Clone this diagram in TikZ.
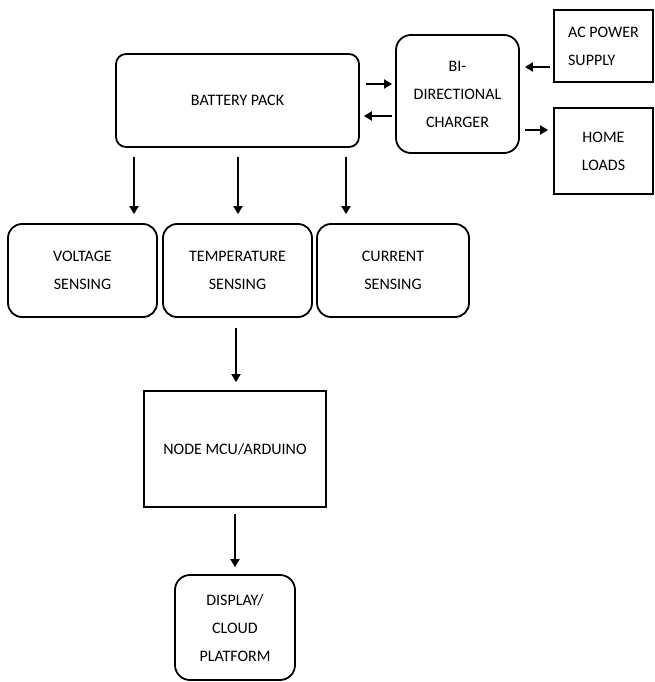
\documentclass[tikz,border=0pt]{standalone}
\usepackage{fontspec}
\setmainfont{Carlito}
\usepackage{tikz}
\usetikzlibrary{positioning,arrows.meta,calc}

\begin{document}
\begin{tikzpicture}[
    x=1pt, y=-1pt,
    rblock/.style={draw, line width=1.8pt, rounded corners=#1, align=center, inner sep=0pt,
      font=\fontsize{16}{28}\selectfont},
    rblock/.default=12pt,
    sblock/.style={draw, line width=1.8pt, align=center, inner sep=0pt,
      font=\fontsize{16}{28}\selectfont},
    arrow/.style={-{Triangle[length=8pt, width=9pt]}, line width=2.6pt},
  ]
  \useasboundingbox (0,0) rectangle (655,682);

  % Top row
  \node[rblock=10pt, minimum width=243pt, minimum height=93pt] (bp) at (237.5,100.5) {BATTERY PACK};
  \node[rblock=15pt, minimum width=123pt, minimum height=118pt] (chg) at (457.5,94) {BI-\\DIRECTIONAL\\CHARGER};
  \node[sblock, minimum width=99pt, minimum height=72pt, align=left] (ac) at (603.5,46) {AC POWER\\SUPPLY};
  \node[sblock, minimum width=99pt, minimum height=86pt] (home) at (603.5,151) {HOME\\LOADS};

  % Sensing row
  \node[rblock=14pt, minimum width=149pt, minimum height=93pt] (volt) at (82.5,270.5) {VOLTAGE\\SENSING};
  \node[rblock=14pt, minimum width=149pt, minimum height=93pt] (temp) at (237.5,270.5) {TEMPERATURE\\SENSING};
  \node[rblock=14pt, minimum width=152pt, minimum height=93pt] (curr) at (393,270.5) {CURRENT\\SENSING};

  % Controller and output
  \node[sblock, minimum width=182pt, minimum height=116pt] (mcu) at (235,449) {NODE MCU/ARDUINO};
  \node[rblock=15pt, minimum width=120pt, minimum height=105pt] (disp) at (235,627.5) {DISPLAY/\\CLOUD\\PLATFORM};

  % Arrows
  \draw[arrow, shorten <=6pt, shorten >=3pt] ([yshift=16.5pt]bp.east) -- ([yshift=16.5pt]bp.east -| chg.west);
  \draw[arrow, shorten <=3pt, shorten >=4pt] ([yshift=-15.5pt]bp.east -| chg.west) -- ([yshift=-15.5pt]bp.east);
  \draw[arrow, shorten <=3pt, shorten >=5pt] ([yshift=-21pt]ac.west) -- ([yshift=-21pt]ac.west -| chg.east);
  \draw[arrow, shorten <=5pt, shorten >=5pt] ([yshift=-36pt]chg.east) -- ([yshift=-36pt]chg.east -| home.west);

  \draw[arrow, shorten <=9pt, shorten >=9pt] ([xshift=-103.5pt]bp.south) -- ([xshift=-103.5pt]bp.south |- volt.north);
  \draw[arrow, shorten <=9pt, shorten >=9pt] ([xshift=0.5pt]bp.south) -- ([xshift=0.5pt]bp.south |- temp.north);
  \draw[arrow, shorten <=9pt, shorten >=9pt] ([xshift=108.5pt]bp.south) -- ([xshift=108.5pt]bp.south |- curr.north);

  \draw[arrow, shorten <=10pt, shorten >=8pt] ([xshift=-1.5pt]temp.south) -- ([xshift=-1.5pt]temp.south |- mcu.north);
  \draw[arrow, shorten <=6pt, shorten >=7pt] (mcu.south) -- (disp.north);
\end{tikzpicture}
\end{document}
